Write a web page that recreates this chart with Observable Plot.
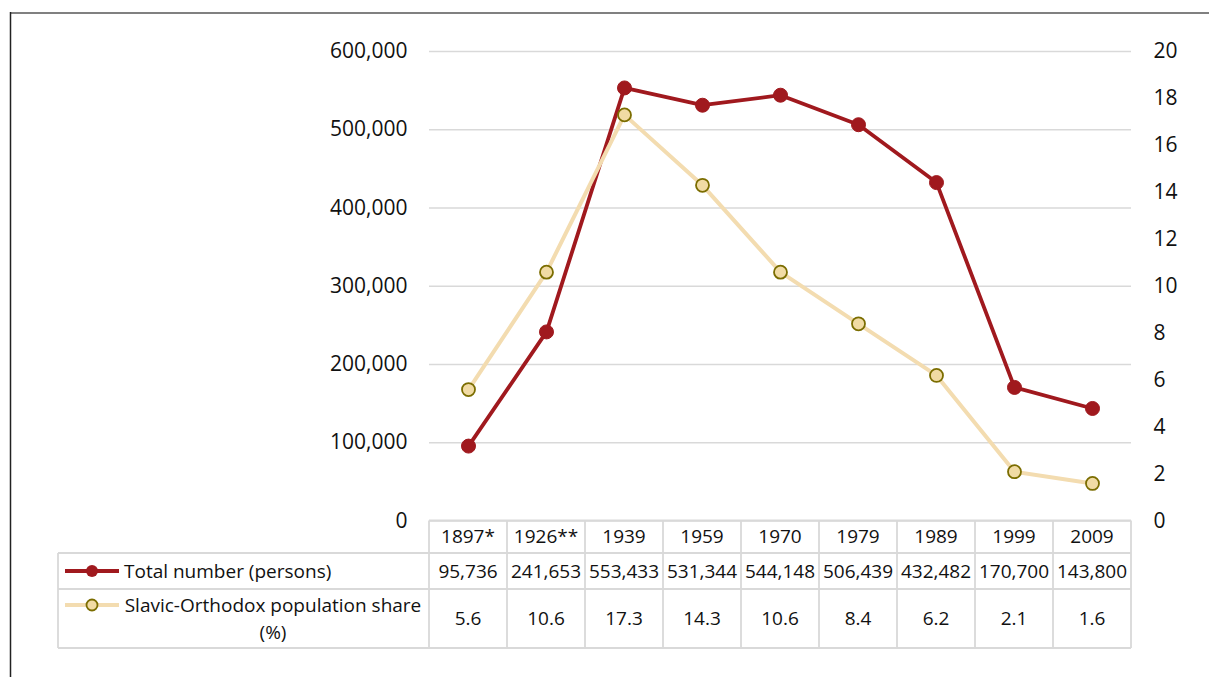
<!DOCTYPE html>
<html><head><meta charset="utf-8">
<script src="https://cdn.jsdelivr.net/npm/d3@7"></script>
<script src="https://cdn.jsdelivr.net/npm/@observablehq/plot@0.6"></script>
<style>
body{margin:0;background:#fff;}
#chart{position:relative;width:1209px;height:677px;overflow:hidden;}
</style></head><body><div id="chart"></div>
<script>
// ---- data ----
const years = ["1897*", "1926**", "1939", "1959", "1970", "1979", "1989", "1999", "2009"];
const totals = [95736, 241653, 553433, 531344, 544148, 506439, 432482, 170700, 143800];
const shares = [5.6, 10.6, 17.3, 14.3, 10.6, 8.4, 6.2, 2.1, 1.6];
const leftTicks = [0, 100000, 200000, 300000, 400000, 500000, 600000];
const rightTicks = [0, 2, 4, 6, 8, 10, 12, 14, 16, 18, 20];
const seriesTotal = "Total number (persons)";
const seriesShareLines = ["Slavic-Orthodox population share", "(%)"];

// ---- styles ----
const FONT = '"Open Sans", sans-serif';
const RED = "#a0191e";
const TAN = "#f3dcb0";
const TAN_FILL = "#f1dba4";
const OLIVE = "#7b6d00";
const GRID = "#d9d9d9";
const TXT = "#111";

const data = years.map((y, i) => ({year: y, total: totals[i], share: shares[i]}));
// secondary axis (0–20) mapped onto primary domain (0–600,000)
const toPrimary = d3.scaleLinear().domain([0, 20]).range([0, 600000]);

const W = 1209, H = 677;
const chart = Plot.plot({
  width: W, height: H,
  marginLeft: 429, marginRight: 78, marginTop: 51, marginBottom: 156.5,
  style: {fontFamily: FONT, fontSize: "21px", color: TXT, background: "#fff", overflow: "visible"},
  x: {type: "band", domain: years, padding: 0, axis: null, label: null},
  y: {domain: [0, 600000], axis: null, label: null},
  marks: [
    Plot.gridY(leftTicks, {stroke: GRID, strokeOpacity: 1, strokeWidth: 1.6}),
    Plot.axisY(leftTicks, {tickSize: 0, tickPadding: 22, tickFormat: d3.format(","), fontSize: 21, label: null}),
    Plot.text(rightTicks, {y: d => toPrimary(d), text: d => String(d), frameAnchor: "right", dx: 22, textAnchor: "start", fontSize: 21, fill: TXT}),
    Plot.line(data, {x: "year", y: "total", stroke: RED, strokeWidth: 3.8}),
    Plot.dot(data, {x: "year", y: "total", r: 7, fill: RED, stroke: RED, strokeWidth: 1}),
    Plot.line(data, {x: "year", y: d => toPrimary(d.share), stroke: TAN, strokeWidth: 4}),
    Plot.dot(data, {x: "year", y: d => toPrimary(d.share), r: 6.5, fill: TAN_FILL, stroke: OLIVE, strokeWidth: 1.8})
  ]
});
document.getElementById("chart").appendChild(chart);

// ---- data table below the plot, aligned with Plot's x band scale ----
const xs = chart.scale("x");
const ys = chart.scale("y");
const bw = xs.bandwidth;
const colLeft = d => xs.apply(d);
const tableRight = colLeft(years[years.length - 1]) + bw;
const tableTop = ys.apply(0);
const rowY = [tableTop, tableTop + 32.5, tableTop + 68.5, tableTop + 127.5];
const labelLeft = 58;

const svg = d3.select(chart);
const g = svg.append("g").attr("font-family", FONT).attr("font-size", 19).attr("fill", TXT);
const lines = g.append("g").attr("stroke", GRID).attr("stroke-width", 1.8);
// horizontal
lines.append("line").attr("x1", colLeft(years[0])).attr("x2", tableRight).attr("y1", rowY[0]).attr("y2", rowY[0]);
for (const yy of rowY.slice(1)) lines.append("line").attr("x1", labelLeft).attr("x2", tableRight).attr("y1", yy).attr("y2", yy);
// vertical
years.forEach(y => lines.append("line").attr("x1", colLeft(y)).attr("x2", colLeft(y)).attr("y1", rowY[0]).attr("y2", rowY[3]));
lines.append("line").attr("x1", tableRight).attr("x2", tableRight).attr("y1", rowY[0]).attr("y2", rowY[3]);
lines.append("line").attr("x1", labelLeft).attr("x2", labelLeft).attr("y1", rowY[1]).attr("y2", rowY[3]);

const fmt = d3.format(",");
years.forEach((y, i) => {
  const cx = colLeft(y) + bw / 2;
  g.append("text").attr("x", cx).attr("y", (rowY[0] + rowY[1]) / 2).attr("dy", "0.35em").attr("text-anchor", "middle").text(y);
  g.append("text").attr("x", cx).attr("y", (rowY[1] + rowY[2]) / 2).attr("dy", "0.35em").attr("text-anchor", "middle").text(fmt(totals[i]));
  g.append("text").attr("x", cx).attr("y", (rowY[2] + rowY[3]) / 2).attr("dy", "0.35em").attr("text-anchor", "middle").text(shares[i].toFixed(1));
});

// legend keys in the label column
const r1 = (rowY[1] + rowY[2]) / 2;
g.append("line").attr("x1", 65).attr("x2", 119).attr("y1", r1).attr("y2", r1).attr("stroke", RED).attr("stroke-width", 3.8);
g.append("circle").attr("cx", 92).attr("cy", r1).attr("r", 6).attr("fill", RED);
g.append("text").attr("x", 124).attr("y", r1).attr("dy", "0.35em").attr("text-anchor", "start").text(seriesTotal);

const r2a = rowY[2] + 16, r2b = rowY[2] + 43;
g.append("line").attr("x1", 65).attr("x2", 119).attr("y1", r2a).attr("y2", r2a).attr("stroke", TAN).attr("stroke-width", 4);
g.append("circle").attr("cx", 92).attr("cy", r2a).attr("r", 5.5).attr("fill", TAN_FILL).attr("stroke", OLIVE).attr("stroke-width", 1.8);
g.append("text").attr("x", 273).attr("y", r2a).attr("dy", "0.35em").attr("text-anchor", "middle").text(seriesShareLines[0]);
g.append("text").attr("x", 273).attr("y", r2b).attr("dy", "0.35em").attr("text-anchor", "middle").text(seriesShareLines[1]);

// outer frame (partially visible chart border)
svg.append("line").attr("x1", 10).attr("x2", W).attr("y1", 13).attr("y2", 13).attr("stroke", "#808080").attr("stroke-width", 2);
svg.append("line").attr("x1", 10.5).attr("x2", 10.5).attr("y1", 12).attr("y2", H).attr("stroke", "#222").attr("stroke-width", 1.5);
</script>
</body></html>
